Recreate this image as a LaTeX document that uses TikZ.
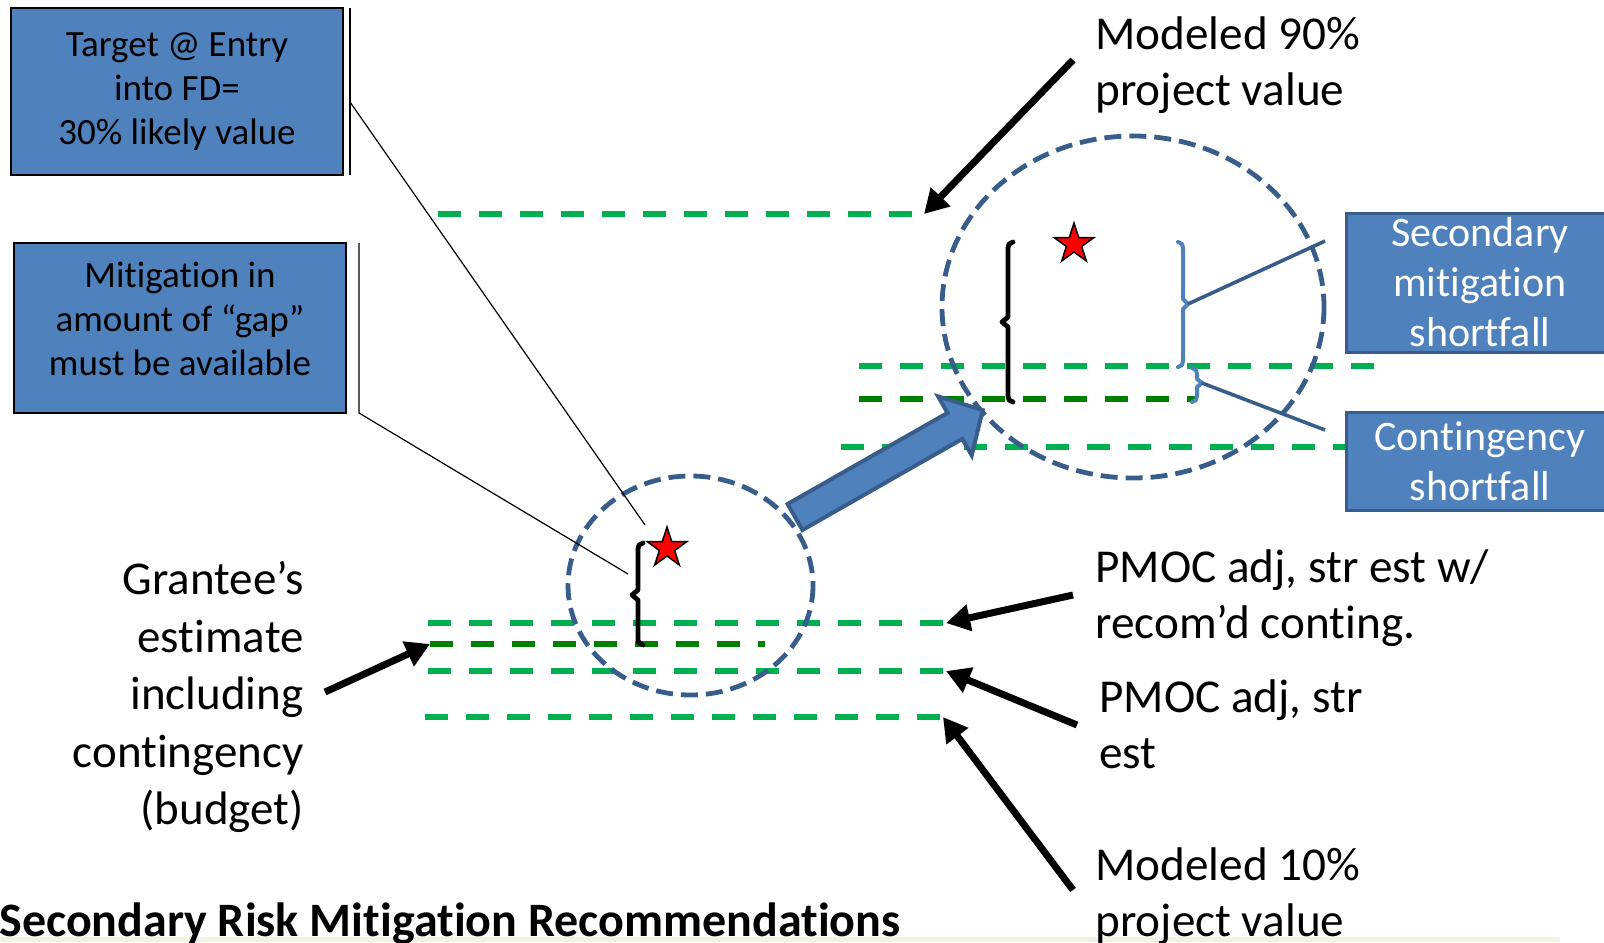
\documentclass[tikz,border=0pt]{standalone}
\usepackage{fontspec}
\setmainfont{Carlito}[Ligatures={NoCommon,NoContextual}, Contextuals=NoAlternate]
\usetikzlibrary{arrows.meta,shapes.geometric,positioning}

\definecolor{boxblue}{HTML}{4F81BD}
\definecolor{edgeblue}{HTML}{385D8A}
\definecolor{lvlgreen}{HTML}{00B050}
\definecolor{budgreen}{HTML}{008000}
\definecolor{footgreen}{HTML}{EDF5E1}

\newcommand{\tisplit}{t\kern0pt i}

\tikzset{
  level/.style={lvlgreen, line width=2.8pt, dash pattern=on 11.5pt off 9pt},
  budget/.style={budgreen, line width=2.8pt, dash pattern=on 11.5pt off 9pt},
  zoomring/.style={edgeblue, line width=2.4pt, dash pattern=on 8.5pt off 4pt},
  pointer/.style={line width=3.5pt, -{Triangle[length=12pt,width=13pt]}},
  callout/.style={line width=0.6pt},
  bracebar/.style={line width=2.4pt, line cap=round, line join=round},
  notebox/.style={draw=black, line width=1pt, fill=boxblue, align=center, inner sep=0pt,
    font=\fontsize{18.5}{22}\selectfont},
  tagbox/.style={draw=edgeblue, line width=1.5pt, fill=boxblue, text=white, align=center,
    inner sep=0pt, minimum width=134pt, font=\fontsize{21}{25}\selectfont},
  valtext/.style={align=left, inner sep=0pt, anchor=north west, font=\fontsize{23.6}{28}\selectfont},
  redstar/.style={star, star points=5, star point ratio=2.618, fill=red, draw=black,
    line width=0.75pt, minimum size=21pt, inner sep=0pt},
}

\begin{document}
\begin{tikzpicture}[x=0.5pt, y=-0.5pt]
    \clip (0,0) rectangle (1604,942);
    \fill[footgreen] (0,937) rectangle (1560,942);

    % level lines
    \coordinate (h90a) at (438,214); \coordinate (h90b) at (924,214);
    \coordinate (hAa) at (859,366);  \coordinate (hAb) at (1378,366);
    \coordinate (hBa) at (859,399);  \coordinate (hBb) at (1197,399);
    \coordinate (hCa) at (841,447);  \coordinate (hCb) at (1345,447);
    \coordinate (adjwa) at (428,623); \coordinate (adjwb) at (946,623);
    \coordinate (buda) at (430,644);  \coordinate (budb) at (765,644);
    \coordinate (adja) at (428,671);  \coordinate (adjb) at (946,671);
    \coordinate (h10a) at (425,717);  \coordinate (h10b) at (943,717);
    \draw[level] (h90a) -- (h90b);
    \draw[level] (hAa) -- (hAb);
    \draw[budget] (hBa) -- (hBb);
    \draw[level] (hCa) -- (hCb);
    \draw[level] (adjwa) -- (adjwb);
    \draw[budget] (buda) -- (budb);
    \draw[level] (adja) -- (adjb);
    \draw[level] (h10a) -- (h10b);

    % rings
    \draw[zoomring] (690.5,585.5) ellipse [x radius=122.5, y radius=109.5];
    \draw[zoomring] (1133,307) ellipse [x radius=191, y radius=171];

    % braces
    \draw[bracebar] (643,543) -- (639,545) -- (638,549) -- (638,590) -- (632,595) -- (638,600)
        -- (638,640) -- (639,643) -- (643,645);
    \draw[bracebar] (1013,242) -- (1009,244) -- (1008,248) -- (1008,317) -- (1002,322) -- (1008,327)
        -- (1008,396) -- (1009,400) -- (1013,402);
    \draw[bracebar, boxblue, line width=2pt] (1178,242) -- (1182,244) -- (1183,248) -- (1183,299)
        -- (1188,304) -- (1183,309) -- (1183,361) -- (1182,365) -- (1178,367);
    \draw[bracebar, boxblue, line width=2pt] (1192,368) -- (1196,370) -- (1197,374) -- (1197,379)
        -- (1202,383) -- (1197,387) -- (1197,396) -- (1196,400) -- (1192,402);

    \node[redstar] (star1) at (667,548) {};
    \node[redstar] (star2) at (1074,244) {};

    % block arrow
    \draw[edgeblue, fill=boxblue, line width=2pt, line join=miter]
        (787.6,504) -- (947.5,412.9) -- (938.1,396.4) -- (982.7,410.1)
        -- (971.7,455.4) -- (962.3,438.9) -- (802.4,530) -- cycle;

    % note boxes and callouts
    \node[notebox, minimum width=166pt, minimum height=83.5pt] (target) at (177,91.5)
        {Target @ Entry\\into FD=\\30\% likely value};
    \node[notebox, minimum width=166pt, minimum height=85pt] (gap) at (180,328)
        {Mi\tisplit{}ga\tisplit{}on in\\amount of “gap”\\must be available\rule[-9pt]{0pt}{1pt}};
    \coordinate (tbar1) at (350,8); \coordinate (tbar2) at (350,175);
    \coordinate (tknee) at (350,102); \coordinate (tend) at (645,525);
    \coordinate (gbar1) at (359,243); \coordinate (gknee) at (359,413);
    \coordinate (gend) at (628,574);
    \draw[callout] (tbar1) -- (tbar2);
    \draw[callout] (tknee) -- (tend);
    \draw[callout] (gbar1) -- (gknee) -- (gend);

    \node[tagbox, minimum height=69.5pt] (second) at (1480,282.5)
        {Secondary\\mi\tisplit{}ga\tisplit{}on\\shortfall};
    \node[tagbox, minimum height=49pt] (conting) at (1480,461)
        {Con\tisplit{}ngency\\shortfall};
    \coordinate (snotch) at (1188,304); \coordinate (send) at (1325,241);
    \coordinate (cnotch) at (1202,383); \coordinate (cend) at (1325,430);
    \draw[edgeblue, line width=1.8pt] (snotch) -- (send);
    \draw[edgeblue, line width=1.8pt] (cnotch) -- (cend);

    % value labels
    \node[valtext] (m90) at (1095,16) {Modeled 90\%\\project value};
    \node[valtext] (pmocw) at (1095,549) {PMOC adj, str est w/\\recom’d con\tisplit{}ng.};
    \node[valtext] (pmoc) at (1099,679) {PMOC adj, str\\est};
    \node[valtext] (m10) at (1095,847) {Modeled 10\%\\project value};
    \node[align=right, inner sep=0pt, anchor=north east, font=\fontsize{23.5}{28.8}\selectfont]
        (grantee) at (304,561) {Grantee’s\\estimate\\including\\con\tisplit{}ngency\\(budget)};
    \node[inner sep=0pt, anchor=base west, font=\fontsize{24}{28}\selectfont\bfseries]
        (title) at (-1,936) {Secondary Risk Mi\tisplit{}ga\tisplit{}on Recommenda\tisplit{}ons};

    % pointers
    \coordinate (p90) at (1073,60);
    \coordinate (pw) at (1073,595);
    \coordinate (pa) at (1077,725);
    \coordinate (p10) at (1073,890);
    \coordinate (pg) at (325,692);
    \draw[pointer] (p90) -- (h90b);
    \draw[pointer] (pw) -- (adjwb);
    \draw[pointer] (pa) -- (adjb);
    \draw[pointer] (p10) -- (h10b);
    \draw[pointer] (pg) -- (buda);
\end{tikzpicture}
\end{document}
